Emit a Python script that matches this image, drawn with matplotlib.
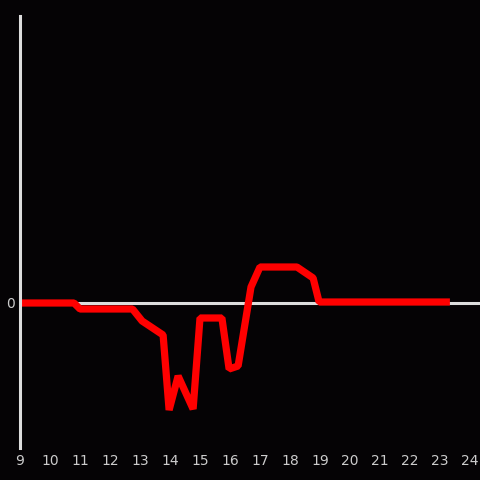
import matplotlib
matplotlib.use('Agg')
import matplotlib.pyplot as plt

hours = [9.0, 10.8, 11.0, 12.75, 13.07, 13.77, 13.97, 14.27, 14.77, 15.0,
         15.73, 15.97, 16.27, 16.7, 17.0, 18.23, 18.77, 18.97, 23.33]
values = [0, 0, -6, -6, -18, -32, -107, -73, -106, -15,
          -15, -66, -63, 16, 36, 36, 25, 1, 1]
xticks = list(range(9, 25))

bg = '#050305'
fg = '#dddddd'

fig = plt.figure(figsize=(4.8, 4.8), dpi=100, facecolor=bg)
ax = fig.add_axes([20/480, 32/480, 460/480, 432/480], facecolor=bg)

ax.axhline(0, color=fg, lw=2.2, zorder=1)
ax.plot(hours, values, color='#ff0000', lw=5.2, solid_joinstyle='bevel',
        solid_capstyle='butt', zorder=2)

ax.set_xlim(9, 24.333)
ax.set_ylim(-145, 287)
ax.set_xticks(xticks)
ax.set_yticks([0])
ax.tick_params(colors='#cccccc', length=0, labelsize=10, pad=4)

for s in ['top', 'right', 'bottom']:
    ax.spines[s].set_visible(False)
ax.spines['left'].set_color(fg)
ax.spines['left'].set_linewidth(2.2)

fig.savefig('out.png', dpi=100, facecolor=bg)
